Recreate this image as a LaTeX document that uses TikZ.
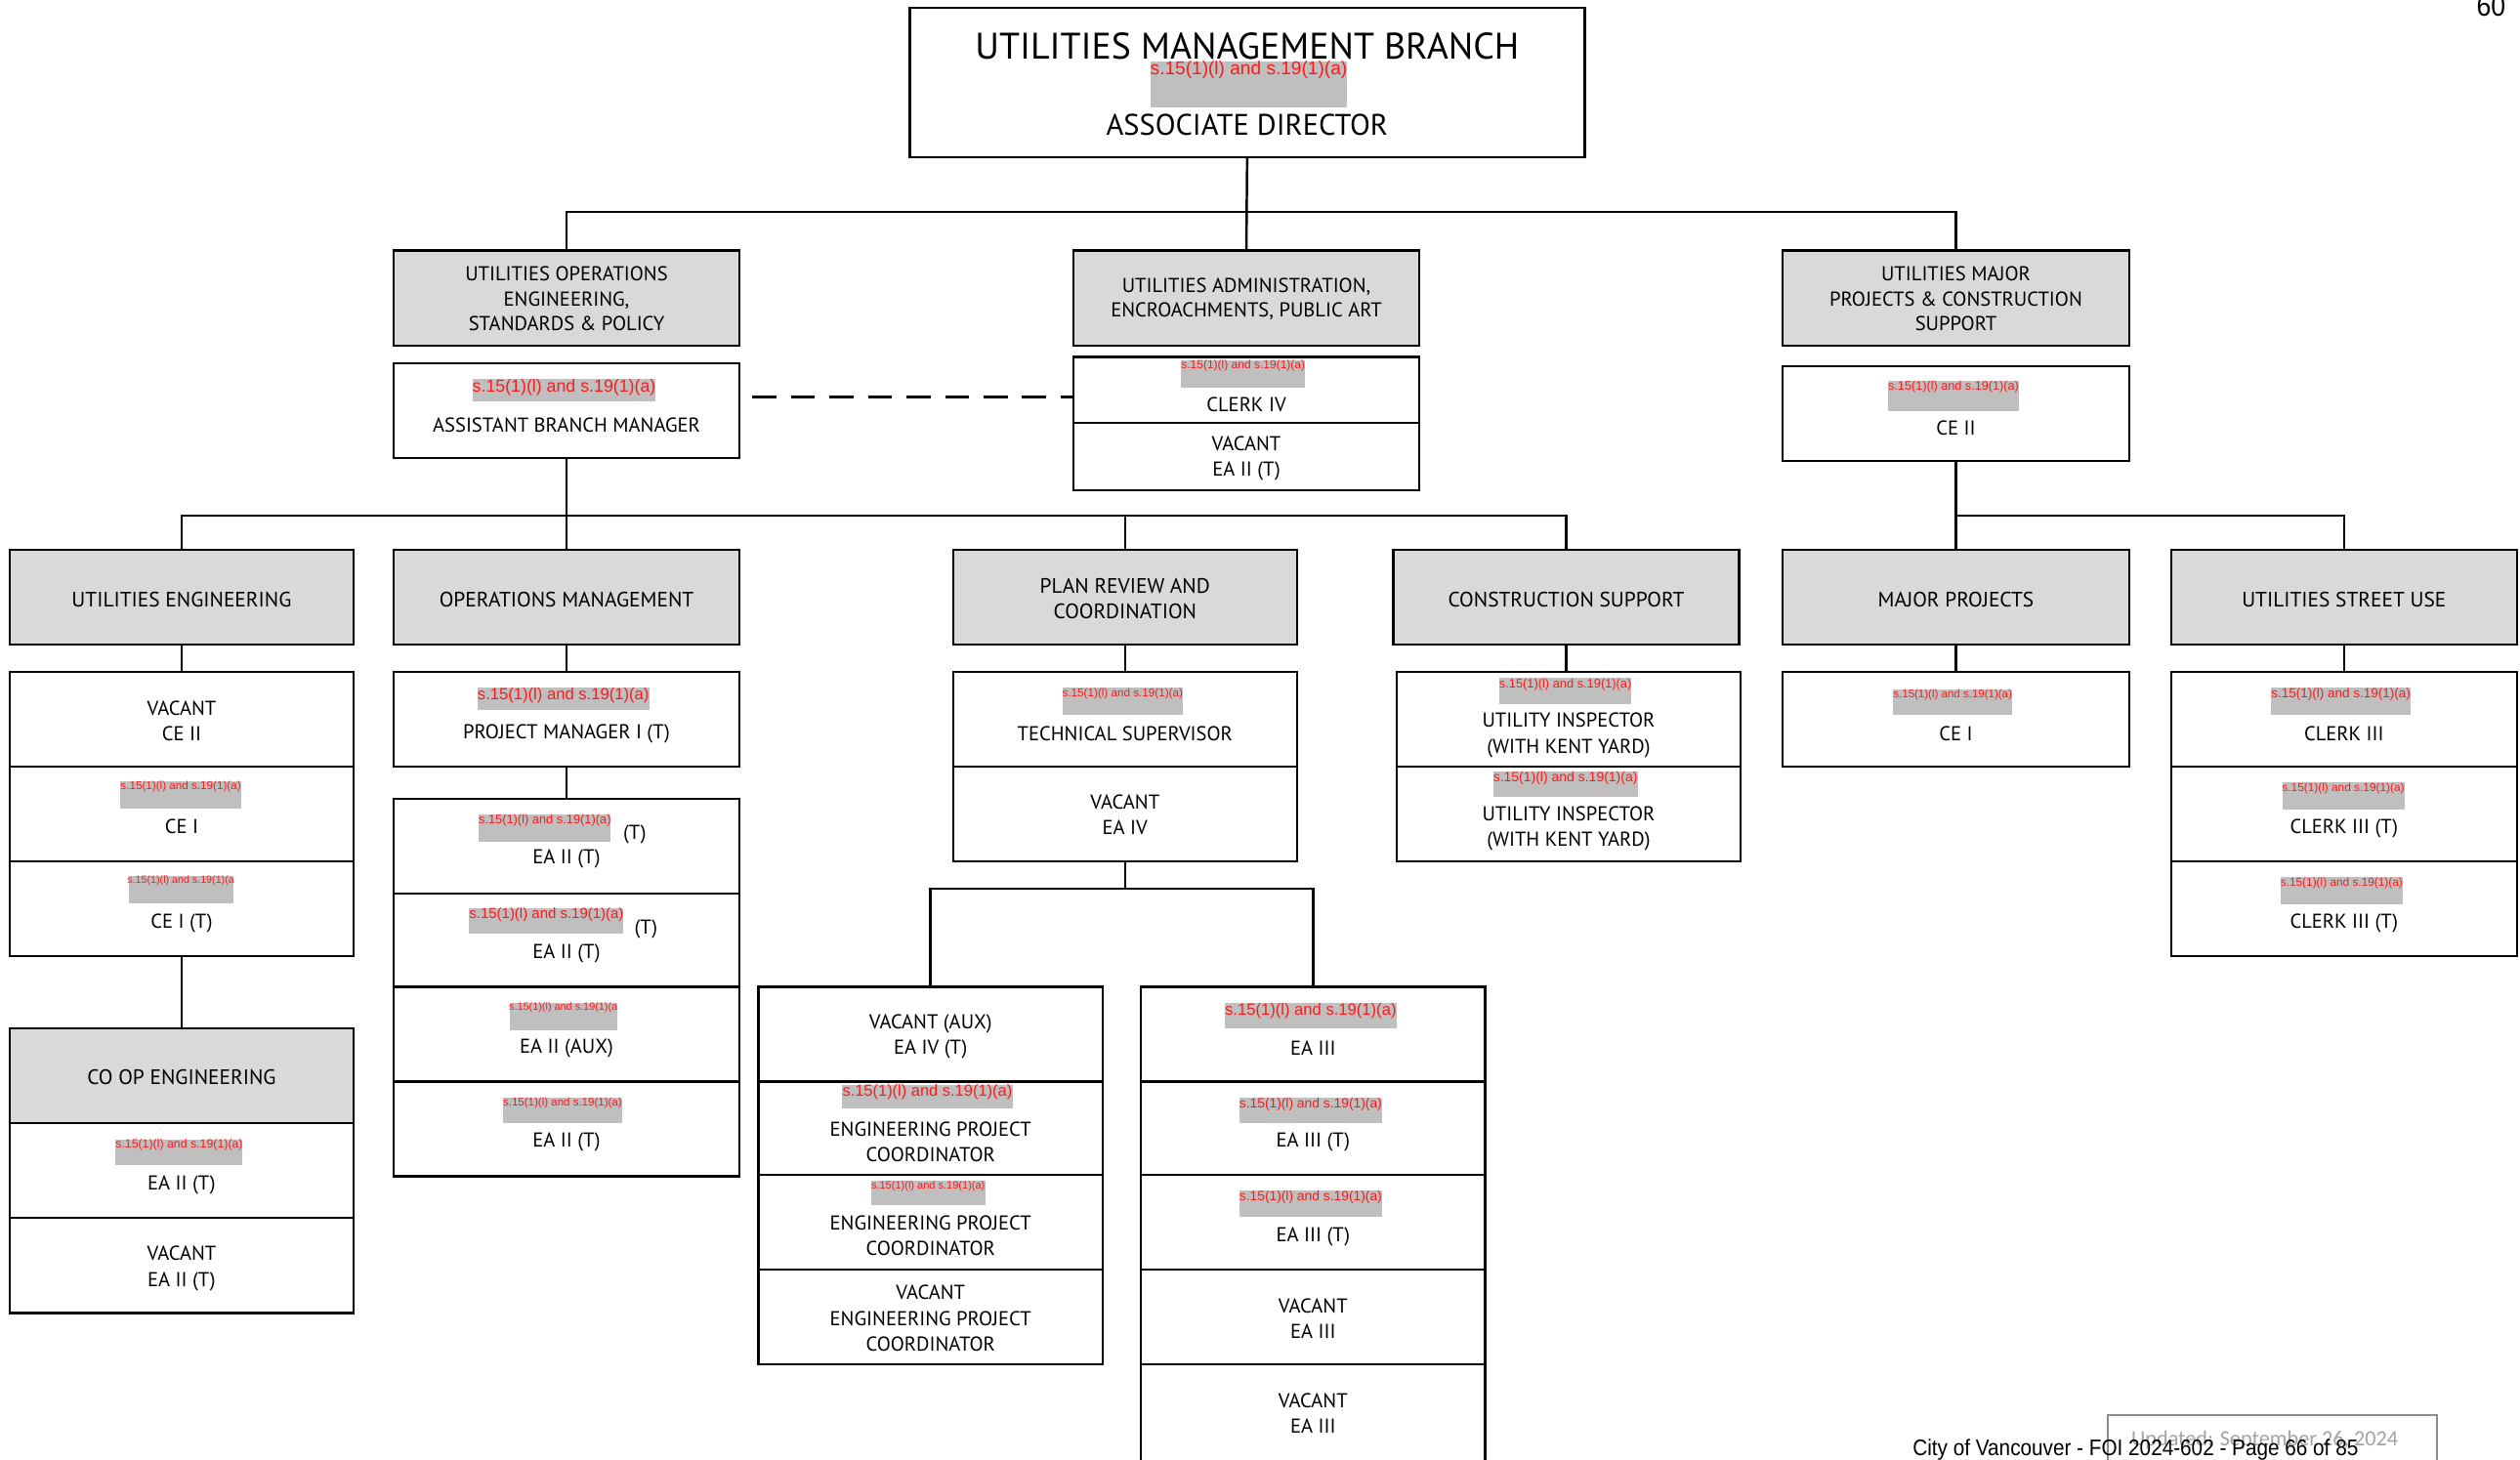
\documentclass[tikz,border=0pt]{standalone}
\usepackage{fontspec}
\setmainfont{PT Sans}
\newfontfamily\rdfont{Liberation Sans}
\newfontfamily\ftfont[FakeStretch=0.9]{Liberation Sans}
\newfontfamily\upfont{Carlito}
\definecolor{hdrgray}{HTML}{D9D9D9}
\definecolor{redgray}{HTML}{BFBFBF}
\definecolor{redtxt}{HTML}{FF1A1A}
\definecolor{updgray}{HTML}{8C8C8C}
\tikzset{
  box/.style={draw=black, line width=1.5pt, inner sep=0pt, outer sep=0pt},
  txt/.style={align=center, inner sep=0pt, yshift=-1.5pt, font=\fontsize{12.5}{16}\selectfont},
  htxt/.style={align=center, inner sep=0pt, yshift=-1pt, font=\fontsize{12.5}{15.5}\selectfont},
  rbox/.style={fill=redgray, inner sep=0pt, outer sep=0pt},
  rtext/.style={text=redtxt, inner sep=0pt},
  conn/.style={line width=1.5pt},
}
\newcommand\bx[6]{\node[box,fill=#6,minimum width={(#4-#2)*1pt},minimum height={(#5-#3)*1pt},anchor=north west] (#1) at (#2,#3) {};}
\newcommand\rd[7]{\node[rbox,minimum width={(#4-#2)*1pt},minimum height={(#5-#3)*1pt},anchor=north west] (#1) at (#2,#3) {};
  \node[rtext,font=\rdfont\fontsize{#6}{#6}\selectfont,anchor=north] (#1t) at (#1.north) {#7};}
\begin{document}
\begin{tikzpicture}[x=1pt,y=-1pt]
\useasboundingbox (0,0) rectangle (1568,908);
\fill[white] (0,0) rectangle (1568,908);

% ---------- top ----------
\bx{top}{566}{5}{986}{98}{white}
\node[txt,font=\fontsize{23}{27}\selectfont] (title) at (776,27) {UTILITIES MANAGEMENT BRANCH};
\rd{topr}{716}{38}{838}{67}{11.6}{s.15(1)(l) and s.19(1)(a)}
\node[txt,font=\fontsize{18.5}{22}\selectfont] (assoc) at (776,76) {ASSOCIATE DIRECTOR};

% ---------- level 2 ----------
\bx{uoe}{245}{156}{460}{215}{hdrgray}
\node[htxt] (uoet) at (352.5,185) {UTILITIES OPERATIONS\\ENGINEERING,\\STANDARDS \& POLICY};
\bx{uae}{668}{156}{883}{215}{hdrgray}
\node[htxt] (uaet) at (775.5,185) {UTILITIES ADMINISTRATION,\\ENCROACHMENTS, PUBLIC ART};
\bx{umpc}{1109}{156}{1325}{215}{hdrgray}
\node[htxt] (umpct) at (1217,185) {UTILITIES MAJOR\\PROJECTS \& CONSTRUCTION\\SUPPORT};

\coordinate (bus1) at (0,132);
\draw[conn] (top.south) -- (uae.north);
\draw[conn] (uoe.north) -- (uoe.north |- bus1) -- (umpc.north |- bus1) -- (umpc.north);

\bx{abm}{245}{226}{460}{285}{white}
\rd{abmr}{294}{236}{408}{250}{10.8}{s.15(1)(l) and s.19(1)(a)}
\node[txt] (abmt) at (352.5,263) {ASSISTANT BRANCH MANAGER};

\bx{clk}{668}{222}{883}{263}{white}
\rd{clkr}{735}{224}{812}{241}{7.3}{s.15(1)(l) and s.19(1)(a)}
\node[txt] (clkt) at (775.5,250) {CLERK IV};
\bx{eaa}{668}{263}{883}{305}{white}
\node[txt] (eaat) at (775.5,284) {VACANT\\EA II (T)};

\coordinate (dl) at (468,247);
\draw[line width=2.2pt, dash pattern=on 15pt off 9pt] (dl) -- (dl -| clk.west);

\bx{cec}{1109}{228}{1325}{287}{white}
\rd{cecr}{1175}{237}{1256}{256}{7.7}{s.15(1)(l) and s.19(1)(a)}
\node[txt] (cect) at (1217,265) {CE II};

% ---------- level 3 ----------
\bx{ue}{6}{342}{220}{401}{hdrgray}
\node[txt,font=\fontsize{13}{16}\selectfont] (uet) at (113,371.5) {UTILITIES ENGINEERING};
\bx{om}{245}{342}{460}{401}{hdrgray}
\node[txt,font=\fontsize{13}{16}\selectfont] (omt) at (352.5,371.5) {OPERATIONS MANAGEMENT};
\bx{pr}{593}{342}{807}{401}{hdrgray}
\node[txt,font=\fontsize{13}{16}\selectfont] (prt) at (700,371) {PLAN REVIEW AND\\COORDINATION};
\bx{cs}{867}{342}{1082}{401}{hdrgray}
\node[txt,font=\fontsize{13}{16}\selectfont] (cst) at (974.5,371.5) {CONSTRUCTION SUPPORT};
\bx{mp}{1109}{342}{1325}{401}{hdrgray}
\node[txt,font=\fontsize{13}{16}\selectfont] (mpt) at (1217,371.5) {MAJOR PROJECTS};
\bx{usu}{1351}{342}{1566}{401}{hdrgray}
\node[txt,font=\fontsize{13}{16}\selectfont] (usut) at (1458.5,371.5) {UTILITIES STREET USE};

\coordinate (bus2) at (0,321);
\draw[conn] (abm.south) -- (om.north);
\draw[conn] (ue.north) -- (ue.north |- bus2) -- (cs.north |- bus2) -- (cs.north);
\draw[conn] (pr.north) -- (pr.north |- bus2);
\draw[conn] (cec.south) -- (mp.north);
\draw[conn] (mp.north |- bus2) -- (usu.north |- bus2) -- (usu.north);

% ---------- utilities engineering ----------
\bx{ue1}{6}{418}{220}{477}{white}
\node[txt] (ue1t) at (113,447) {VACANT\\CE II};
\bx{ue2}{6}{477}{220}{536}{white}
\rd{ue2r}{75}{486}{150}{503}{7.1}{s.15(1)(l) and s.19(1)(a)}
\node[txt] (ue2t) at (113,513) {CE I};
\bx{ue3}{6}{536}{220}{595}{white}
\rd{ue3r}{80}{545}{145}{562}{6.5}{s.15(1)(l) and s.19(1)(a}
\node[txt] (ue3t) at (113,573) {CE I (T)};
\draw[conn] (ue.south) -- (ue1.north);
\bx{coop}{6}{640}{220}{699}{hdrgray}
\node[txt,font=\fontsize{13}{16}\selectfont] (coopt) at (113,669) {CO OP ENGINEERING};
\draw[conn] (ue3.south) -- (coop.north);
\bx{co1}{6}{699}{220}{758}{white}
\rd{co1r}{72}{709}{151}{725}{7.5}{s.15(1)(l) and s.19(1)(a)}
\node[txt] (co1t) at (113,736) {EA II (T)};
\bx{co2}{6}{758}{220}{817}{white}
\node[txt] (co2t) at (113,788) {VACANT\\EA II (T)};

% ---------- operations management ----------
\bx{om1}{245}{418}{460}{477}{white}
\rd{om1r}{297}{428}{404}{442}{10.1}{s.15(1)(l) and s.19(1)(a)}
\node[txt] (om1t) at (352.5,455) {PROJECT MANAGER I (T)};
\draw[conn] (om.south) -- (om1.north);
\bx{om2}{245}{497}{460}{556}{white}
\rd{om2r}{298}{507}{380}{524}{7.8}{s.15(1)(l) and s.19(1)(a)}
\node[txt] (om2x) at (395,518) {(T)};
\node[txt] (om2t) at (352.5,533) {EA II (T)};
\draw[conn] (om1.south) -- (om2.north);
\bx{om3}{245}{556}{460}{614}{white}
\rd{om3r}{292}{565}{388}{581}{9.1}{s.15(1)(l) and s.19(1)(a)}
\node[txt] (om3x) at (402,577) {(T)};
\node[txt] (om3t) at (352.5,592) {EA II (T)};
\bx{om4}{245}{614}{460}{673}{white}
\rd{om4r}{317}{624}{384}{641}{6.6}{s.15(1)(l) and s.19(1)(a}
\node[txt] (om4t) at (352.5,651) {EA II (AUX)};
\bx{om5}{245}{673}{460}{732}{white}
\rd{om5r}{313}{683}{387}{699}{7.0}{s.15(1)(l) and s.19(1)(a)}
\node[txt] (om5t) at (352.5,709) {EA II (T)};

% ---------- plan review ----------
\bx{pr1}{593}{418}{807}{477}{white}
\rd{pr1r}{661}{428}{736}{445}{7.1}{s.15(1)(l) and s.19(1)(a)}
\node[txt] (pr1t) at (700,455) {TECHNICAL SUPERVISOR};
\draw[conn] (pr.south) -- (pr1.north);
\bx{pr2}{593}{477}{807}{536}{white}
\node[txt] (pr2t) at (700,505.5) {VACANT\\EA IV};

\bx{pl1}{472}{614}{686}{673}{white}
\node[txt] (pl1t) at (579,643.5) {VACANT (AUX)\\EA IV (T)};
\bx{pl2}{472}{673}{686}{731}{white}
\rd{pl2r}{524}{675}{630}{690}{10}{s.15(1)(l) and s.19(1)(a)}
\node[txt] (pl2t) at (579,709) {ENGINEERING PROJECT\\COORDINATOR};
\bx{pl3}{472}{731}{686}{790}{white}
\rd{pl3r}{542}{735}{613}{750}{6.7}{s.15(1)(l) and s.19(1)(a)}
\node[txt] (pl3t) at (579,767.5) {ENGINEERING PROJECT\\COORDINATOR};
\bx{pl4}{472}{790}{686}{849}{white}
\node[txt] (pl4t) at (579,819) {VACANT\\ENGINEERING PROJECT\\COORDINATOR};

\bx{pq1}{710}{614}{924}{673}{white}
\rd{pq1r}{762}{624}{869}{640}{10.1}{s.15(1)(l) and s.19(1)(a)}
\node[txt] (pq1t) at (817,651) {EA III};
\bx{pq2}{710}{673}{924}{731}{white}
\rd{pq2r}{771}{683}{860}{699}{8.4}{s.15(1)(l) and s.19(1)(a)}
\node[txt] (pq2t) at (817,709) {EA III (T)};
\bx{pq3}{710}{731}{924}{790}{white}
\rd{pq3r}{771}{741}{860}{757}{8.4}{s.15(1)(l) and s.19(1)(a)}
\node[txt] (pq3t) at (817,768) {EA III (T)};
\bx{pq4}{710}{790}{924}{849}{white}
\node[txt] (pq4t) at (817,819) {VACANT\\EA III};
\bx{pq5}{710}{849}{924}{920}{white}
\node[txt] (pq5t) at (817,878) {VACANT\\EA III};

\coordinate (bus3) at (0,553);
\draw[conn] (pr2.south) -- (pr2.south |- bus3);
\draw[conn] (pl1.north) -- (pl1.north |- bus3) -- (pq1.north |- bus3) -- (pq1.north);

% ---------- construction support ----------
\bx{cs1}{869}{418}{1083}{477}{white}
\rd{cs1r}{933}{422}{1015}{438}{7.8}{s.15(1)(l) and s.19(1)(a)}
\node[txt] (cs1t) at (976,456) {UTILITY INSPECTOR\\(WITH KENT YARD)};
\draw[conn] (cs.south) -- (cs.south |- cs1.north);
\bx{cs2}{869}{477}{1083}{536}{white}
\rd{cs2r}{929}{480}{1019}{496}{8.5}{s.15(1)(l) and s.19(1)(a)}
\node[txt] (cs2t) at (976,514) {UTILITY INSPECTOR\\(WITH KENT YARD)};

% ---------- major projects ----------
\bx{mp1}{1109}{418}{1325}{477}{white}
\rd{mp1r}{1178}{429}{1252}{445}{7.0}{s.15(1)(l) and s.19(1)(a)}
\node[txt] (mp1t) at (1217,455) {CE I};
\draw[conn] (mp.south) -- (mp1.north);

% ---------- utilities street use ----------
\bx{us1}{1351}{418}{1566}{477}{white}
\rd{us1r}{1413}{428}{1500}{445}{8.2}{s.15(1)(l) and s.19(1)(a)}
\node[txt] (us1t) at (1458.5,455) {CLERK III};
\draw[conn] (usu.south) -- (us1.north);
\bx{us2}{1351}{477}{1566}{536}{white}
\rd{us2r}{1420}{487}{1496}{504}{7.2}{s.15(1)(l) and s.19(1)(a)}
\node[txt] (us2t) at (1458.5,514) {CLERK III (T)};
\bx{us3}{1351}{536}{1566}{595}{white}
\rd{us3r}{1419}{546}{1495}{563}{7.2}{s.15(1)(l) and s.19(1)(a)}
\node[txt] (us3t) at (1458.5,573) {CLERK III (T)};

% ---------- footer ----------
\node[draw=updgray, line width=1pt, inner sep=0pt, minimum width=205pt, minimum height=40pt, anchor=north west] (upd) at (1311,880) {};
\node[inner sep=0pt, text=updgray!80, font=\upfont\fontsize{13.5}{14}\selectfont, anchor=base west] (updt) at (1326,900) {Updated: September 26, 2024};
\node[inner sep=0pt, font=\ftfont\fontsize{14}{14}\selectfont, anchor=base west] (foot) at (1190,906) {City of Vancouver - FOI 2024-602 - Page 66 of 85};
\node[inner sep=0pt, font=\ftfont\fontsize{18}{18}\selectfont, anchor=base] (pg) at (1550,10) {60};
\end{tikzpicture}
\end{document}
